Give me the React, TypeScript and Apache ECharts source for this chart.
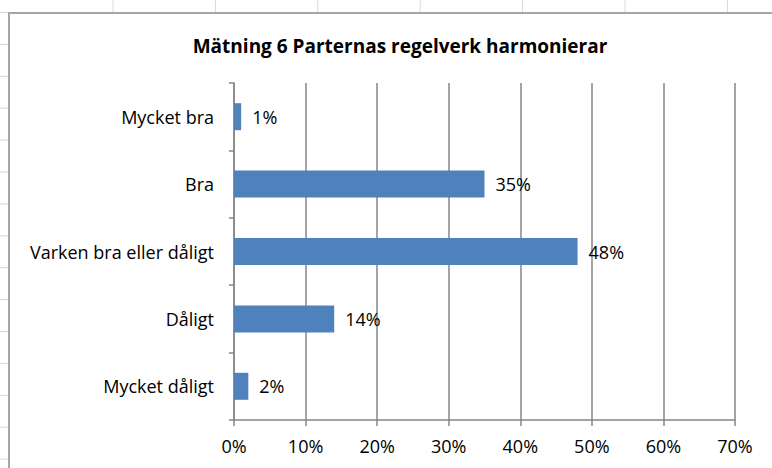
import React, { useEffect, useRef } from "react";
import * as echarts from "echarts";

const categories = ["Mycket bra", "Bra", "Varken bra eller dåligt", "Dåligt", "Mycket dåligt"];
const values = [1, 35, 48, 14, 2];
const titleText = "Mätning 6 Parternas regelverk harmonierar";
const xMin = 0;
const xMax = 70;
const xStep = 10;

const FONT = "'Open Sans', 'Noto Sans', sans-serif";

export default function App() {
  const ref = useRef<HTMLDivElement>(null);
  useEffect(() => {
    if (!ref.current) return;
    const chart = echarts.init(ref.current, null, { renderer: "svg" });
    const leftTicks: any[] = [];
    for (let i = 0; i < 15; i++) {
      const y = 12.5 + i * 31.9;
      leftTicks.push({ type: "line", shape: { x1: 0, y1: y, x2: 9, y2: y }, style: { stroke: "#d9d9d9", lineWidth: 1 }, silent: true });
    }
    const topTicks: any[] = [];
    for (let i = 0; i < 7; i++) {
      const x = 113 + i * 102.4;
      topTicks.push({ type: "line", shape: { x1: x, y1: 0, x2: x, y2: 12 }, style: { stroke: "#d9d9d9", lineWidth: 1 }, silent: true });
    }
    chart.setOption({
      animation: false,
      backgroundColor: "#ffffff",
      title: {
        text: titleText,
        left: 395,
        top: 31,
        textAlign: "center",
        textStyle: { fontFamily: FONT, fontSize: 19, fontWeight: "bold", color: "#000" },
      },
      graphic: [
        ...leftTicks,
        ...topTicks,
        { type: "line", shape: { x1: 9, y1: 13, x2: 772, y2: 13 }, style: { stroke: "#a6a6a6", lineWidth: 2 }, silent: true },
        { type: "line", shape: { x1: 9, y1: 12, x2: 9, y2: 468 }, style: { stroke: "#a6a6a6", lineWidth: 2 }, silent: true },
      ],
      grid: { left: 234, right: 37, top: 83, bottom: 48, containLabel: false },
      xAxis: {
        type: "value",
        min: xMin,
        max: xMax,
        interval: xStep,
        axisLine: { show: true, lineStyle: { color: "#868686", width: 1.5 } },
        axisTick: { show: true, length: 6, lineStyle: { color: "#868686", width: 1.5 } },
        splitLine: { show: true, lineStyle: { color: "#868686", width: 1.5 } },
        axisLabel: { formatter: "{value}%", fontFamily: FONT, fontSize: 18, color: "#000", margin: 17 },
      },
      yAxis: {
        type: "category",
        data: categories,
        inverse: true,
        axisLine: { show: true, lineStyle: { color: "#868686", width: 1.5 } },
        axisTick: { show: true, length: 5, alignWithLabel: false, lineStyle: { color: "#868686", width: 1.5 } },
        axisLabel: { fontFamily: FONT, fontSize: 18, color: "#000", margin: 20 },
        splitLine: { show: false },
      },
      series: [
        {
          type: "bar",
          data: values,
          barWidth: 27,
          itemStyle: { color: "#4F81BD" },
          label: {
            show: true,
            position: "right",
            distance: 11,
            formatter: "{c}%",
            fontFamily: FONT,
            fontSize: 18,
            color: "#000",
          },
        },
      ],
    });
    return () => chart.dispose();
  }, []);
  return <div ref={ref} style={{ width: 772, height: 468, position: "absolute", left: 0, top: 0 }} />;
}
